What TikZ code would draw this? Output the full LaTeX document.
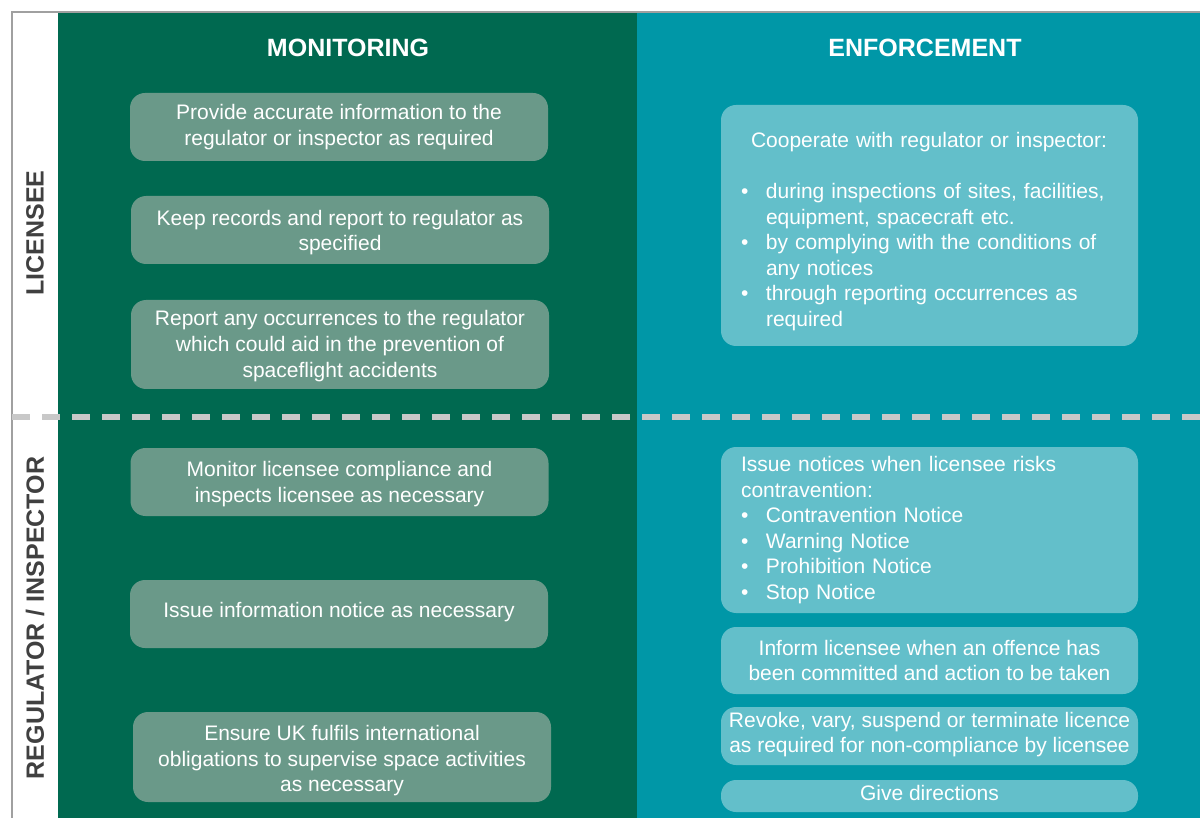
\documentclass[tikz,border=0pt]{standalone}
\usepackage{fontspec}
\setmainfont{Liberation Sans}
\definecolor{dkgreen}{RGB}{0,105,80}
\definecolor{boxgreen}{RGB}{106,153,137}
\definecolor{teal1}{RGB}{0,151,167}
\definecolor{boxteal}{RGB}{99,191,202}
\definecolor{labgray}{RGB}{64,64,64}
\definecolor{framegray}{RGB}{160,160,160}
\definecolor{dashgray}{RGB}{200,200,200}
\begin{document}
\begin{tikzpicture}[x=0.5pt,y=-0.5pt,
  bodyfont/.style={font=\fontsize{10.5}{12.8}\selectfont},
  gbox/.style={bodyfont, rectangle, rounded corners=7.5pt, fill=boxgreen, text=white, align=center, minimum width=209pt, inner sep=0pt},
  tbox/.style={bodyfont, rectangle, rounded corners=7.5pt, fill=boxteal, text=white, align=center, minimum width=208.5pt, inner sep=0pt},
  tlist/.style={tbox, align=left, text width=188.5pt, inner xsep=10pt},
  heading/.style={font=\fontsize{12.5}{15}\selectfont\bfseries, text=white},
  sidelabel/.style={font=\fontsize{12.5}{15}\selectfont\bfseries, text=labgray, rotate=90},
  dashline/.style={draw=dashgray, line width=2.8pt, dash pattern=on 9pt off 6pt}
]
\useasboundingbox (0,0) rectangle (1200,818);
\fill[white] (0,0) rectangle (1200,818);
% columns
\fill[dkgreen] (58,13) rectangle (637,818);
\fill[teal1] (637,13) rectangle (1200,818);
% frame
\draw[framegray, line width=1.2pt] (12,818) -- (12,12) -- (1200,12);
% separator
\draw[dashline] (12,417) -- (1200,417);
% headings
\node[heading] (hmon) at (348,48) {MONITORING};
\node[heading] (henf) at (925,48) {ENFORCEMENT};
% side labels
\node[sidelabel] (llic) at (35,233) {LICENSEE};
\node[sidelabel] (lreg) at (35,618) {REGULATOR / INSPECTOR};
% monitoring boxes
\node[gbox, minimum height=34pt] (m1) at (339,127) {Provide accurate information to the\\regulator or inspector as required};
\node[gbox, minimum height=34pt] (m2) at (340,230) {\rule{0pt}{10pt}Keep records and report to regulator as\\specified};
\node[gbox, minimum height=44.5pt] (m3) at (340,344.5) {\rule{0pt}{9.2pt}Report any occurrences to the regulator\\which could aid in the prevention of\\spaceflight accidents};
\node[gbox, minimum height=34pt] (m4) at (339.5,482) {\rule{0pt}{9.6pt}Monitor licensee compliance and\\inspects licensee as necessary};
\node[gbox, minimum height=34pt] (m5) at (339,614) {\rule[-4.2pt]{0pt}{0pt}Issue information notice as necessary};
\node[gbox, minimum height=45pt] (m6) at (342,757) {\rule{0pt}{11.2pt}Ensure UK fulfils international\\obligations to supervise space activities\\as necessary};
% enforcement boxes
\node[tlist, minimum height=120.5pt] (e1) at (929.5,225.5) {\hspace*{5pt}\rule{0pt}{13.6pt}Cooperate with regulator or inspector:\\[12.8pt]
\makebox[12.5pt][l]{•}during inspections of sites, facilities,\\
\hspace*{12.5pt}equipment, spacecraft etc.\\
\makebox[12.5pt][l]{•}by complying with the conditions of\\
\hspace*{12.5pt}any notices\\
\makebox[12.5pt][l]{•}through reporting occurrences as\\
\hspace*{12.5pt}required};
\node[tlist, minimum height=83pt] (e2) at (929.5,530) {Issue notices when licensee risks\\
contravention:\\
\makebox[12.5pt][l]{•}Contravention Notice\\
\makebox[12.5pt][l]{•}Warning Notice\\
\makebox[12.5pt][l]{•}Prohibition Notice\\
\makebox[12.5pt][l]{•}Stop Notice};
\node[tbox, minimum height=33.5pt] (e3) at (929.5,660.5) {Inform licensee when an offence has\\been committed and action to be taken};
\node[tbox, minimum height=29pt] (e4) at (929.5,736) {Revoke, vary, suspend or terminate licence\\as required for non-compliance by licensee\rule[-3.6pt]{0pt}{0pt}};
\node[tbox, minimum height=16pt] (e5) at (929.5,796) {Give directions\rule[-3.2pt]{0pt}{0pt}};
\end{tikzpicture}
\end{document}
